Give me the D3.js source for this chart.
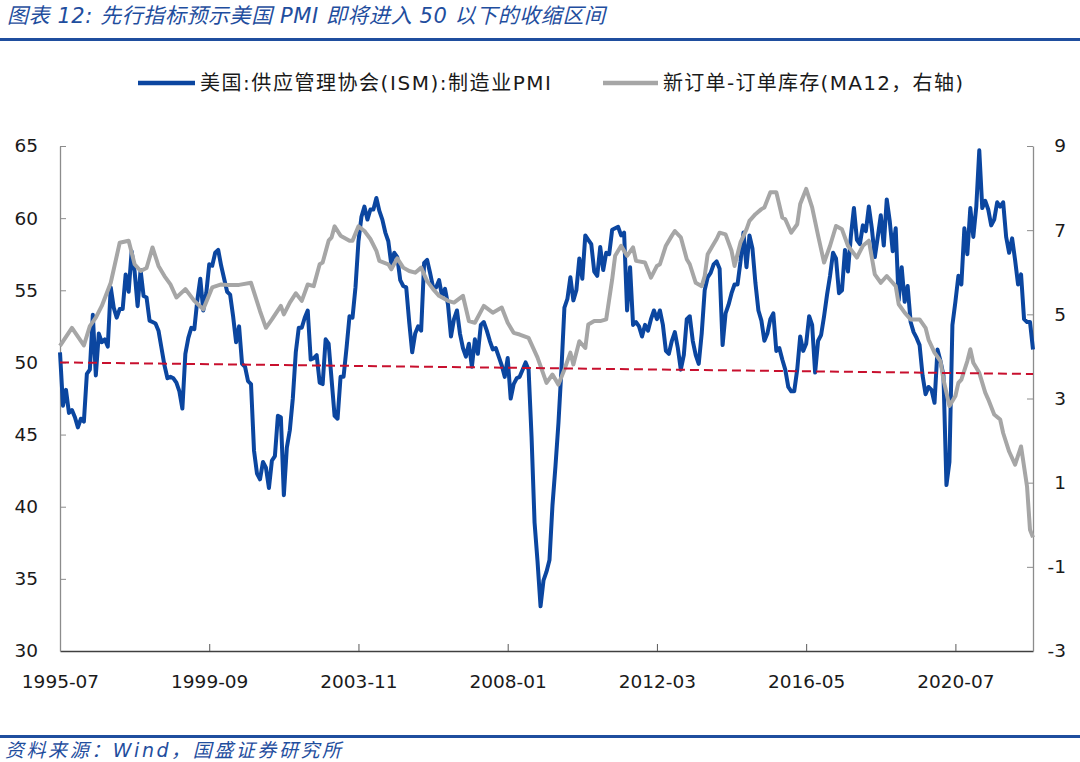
<!DOCTYPE html>
<html>
<script src="https://d3js.org/d3.v7.min.js"></script>

<head>
    <style>
        body {
            margin: 0;
            background-color: #ffffff;
            font-family: "DejaVu Sans", "Noto Sans CJK SC", sans-serif;
        }

        svg {
            display: block;
        }
    </style>
</head>

<body>
</body>
<script>
    const width = 1080,
        height = 762;

    // monthly ISM manufacturing PMI, first value is 1995-07
    const pmiStart = "1995-07";
    const pmiValues = [
        50.7, 47.0, 48.1, 46.5, 46.7, 46.2,
        45.5, 46.1, 45.9, 49.2, 49.5, 53.3, 49.1, 52.0, 51.4, 51.6, 51.1, 55.2,
        53.8, 53.1, 53.7, 53.7, 56.1, 54.9, 57.7, 56.3, 53.9, 56.4, 54.6, 54.5,
        52.9, 52.8, 52.7, 52.2, 51.0, 49.8, 48.9, 49.0, 48.9, 48.6, 48.0, 46.8,
        50.6, 51.7, 52.4, 52.3, 54.3, 55.8, 53.6, 54.8, 56.8, 56.7, 57.6, 57.8,
        56.7, 55.8, 54.9, 54.7, 53.2, 51.4, 52.5, 49.9, 49.7, 48.7, 48.5, 43.9,
        42.3, 41.9, 43.1, 42.7, 41.3, 43.2, 43.5, 46.3, 46.2, 40.8, 44.1, 45.3,
        47.5, 50.7, 52.4, 52.4, 53.1, 53.6, 50.2, 50.3, 50.5, 48.6, 48.5, 51.6,
        51.3, 48.8, 46.3, 46.1, 49.0, 49.0, 51.0, 53.2, 53.1, 55.2, 58.4, 60.1,
        60.8, 59.9, 60.6, 60.6, 61.4, 60.5, 59.9, 59.0, 58.4, 56.8, 57.6, 57.3,
        55.7, 55.3, 55.2, 52.8, 50.7, 52.0, 52.5, 52.2, 56.9, 57.1, 56.2, 55.2,
        55.2, 55.7, 54.6, 55.1, 54.0, 51.8, 53.0, 53.6, 52.0, 51.0, 50.4, 51.3,
        49.7, 51.6, 50.6, 52.6, 52.8, 52.2, 51.5, 50.9, 51.0, 50.4, 49.8, 49.0,
        50.3, 47.5, 48.5, 48.9, 49.0, 49.5, 50.0, 49.5, 44.8, 38.9, 36.2, 33.1,
        34.9, 35.5, 36.3, 40.1, 42.8, 45.8, 49.5, 53.8, 54.4, 55.9, 54.3, 55.0,
        57.2, 55.8, 58.8, 58.5, 58.2, 56.3, 56.0, 58.0, 56.4, 57.6, 57.5, 59.2,
        59.3, 59.4, 58.8, 59.0, 53.6, 56.6, 52.6, 52.8, 52.5, 51.8, 52.6, 52.2,
        53.0, 53.6, 53.0, 53.6, 52.6, 50.8, 50.6, 51.5, 52.1, 51.0, 49.5, 50.5,
        53.0, 53.2, 51.5, 50.5, 49.9, 52.0, 55.0, 55.9, 56.2, 56.8, 57.0, 56.5,
        51.2, 53.4, 54.0, 54.8, 55.4, 55.4, 57.0, 59.0, 56.6, 58.8, 57.9, 55.5,
        53.6, 52.9, 51.5, 52.0, 53.0, 53.4, 50.8, 51.0, 50.2, 49.5, 48.3, 48.0,
        48.0, 49.5, 51.8, 50.8, 51.3, 53.2, 52.6, 49.3, 51.5, 51.9, 53.2, 54.7,
        56.0, 57.6, 57.2, 54.8, 55.0, 57.8, 56.3, 58.8, 60.7, 58.5, 58.2, 59.5,
        59.1, 60.8, 59.3, 57.3, 58.7, 60.2, 58.1, 61.3, 59.8, 57.7, 59.3, 54.3,
        56.6, 54.2, 55.3, 52.8, 52.1, 51.7, 51.2, 49.1, 47.8, 48.3, 48.1, 47.2,
        50.9, 50.1, 49.1, 41.5, 43.1, 52.6, 54.2, 56.0, 55.4, 59.3, 57.5, 60.7,
        58.7, 60.8, 64.7, 60.7, 61.2, 60.6, 59.5, 59.9, 61.1, 60.8, 61.1, 58.7,
        57.6, 58.6, 57.1, 55.4, 56.1, 53.0, 52.8, 52.8, 50.9
    ];

    // new orders minus inventories, 12-month average (right axis)
    const grayDates = [
        "1995-07", "1995-11", "1996-03", "1996-05", "1996-07", "1996-09", "1996-12", "1997-03", "1997-06", "1997-08",
        "1997-10", "1997-12", "1998-02", "1998-04", "1998-06", "1998-08", "1998-10", "1999-01", "1999-04", "1999-07",
        "1999-10", "2000-01", "2000-03", "2000-07", "2000-11", "2001-02", "2001-04", "2001-06", "2001-09", "2001-10",
        "2001-12", "2002-02", "2002-04", "2002-06", "2002-08", "2002-10", "2002-11", "2003-01", "2003-02", "2003-03",
        "2003-05", "2003-08", "2003-09", "2003-11", "2004-01", "2004-03", "2004-05", "2004-06", "2004-09", "2004-10",
        "2004-12", "2005-02", "2005-04", "2005-06", "2005-08", "2005-10", "2005-12", "2006-02", "2006-05", "2006-07",
        "2006-10", "2006-12", "2007-02", "2007-05", "2007-08", "2007-11", "2008-01", "2008-03", "2008-05", "2008-08",
        "2008-11", "2009-02", "2009-04", "2009-06", "2009-08", "2009-10", "2009-11", "2010-01", "2010-03", "2010-04",
        "2010-06", "2010-08", "2010-10", "2010-12", "2011-01", "2011-03", "2011-05", "2011-07", "2011-08", "2011-11",
        "2012-01", "2012-03", "2012-04", "2012-06", "2012-08", "2012-09", "2012-11", "2013-01", "2013-02", "2013-04",
        "2013-06", "2013-07", "2013-08", "2013-10", "2013-11", "2013-12", "2014-02", "2014-04", "2014-05", "2014-07",
        "2014-09", "2014-10", "2014-12", "2015-02", "2015-03", "2015-05", "2015-07", "2015-09", "2015-10", "2015-12",
        "2016-02", "2016-03", "2016-05", "2016-07", "2016-09", "2016-11", "2017-01", "2017-03", "2017-05", "2017-07",
        "2017-10", "2017-12", "2018-02", "2018-04", "2018-06", "2018-08", "2018-11", "2018-12", "2019-02", "2019-04",
        "2019-07", "2019-09", "2019-10", "2019-12", "2020-02", "2020-03", "2020-05", "2020-07", "2020-08", "2020-09",
        "2020-11", "2020-12", "2021-01", "2021-03", "2021-05", "2021-06", "2021-08", "2021-10", "2021-11", "2022-01",
        "2022-03", "2022-05", "2022-07", "2022-08", "2022-09"
    ];
    const grayValues = [
        4.25, 4.68, 4.26, 4.72, 4.92, 5.2, 5.75, 6.7, 6.75, 6.19,
        6.03, 6.1, 6.59, 6.15, 5.91, 5.71, 5.4, 5.6, 5.32, 5.12,
        5.64, 5.71, 5.7, 5.7, 5.75, 5.08, 4.68, 4.88, 5.2, 5.0,
        5.28, 5.5, 5.32, 5.71, 5.67, 6.19, 6.23, 6.75, 6.83, 7.09,
        6.87, 6.75, 6.75, 7.09, 6.98, 6.79, 6.51, 6.27, 6.19, 6.07,
        6.33, 6.11, 6.03, 5.99, 6.11, 5.79, 5.6, 5.44, 5.32, 5.28,
        5.44, 4.84, 4.8, 5.2, 5.04, 5.16, 4.8, 4.56, 4.52, 4.44,
        3.97, 3.37, 3.57, 3.33, 3.69, 4.09, 3.81, 4.36, 4.2, 4.76,
        4.84, 4.84, 4.88, 5.83, 6.39, 6.63, 6.39, 6.59, 6.27, 6.23,
        5.87, 6.15, 6.19, 6.63, 6.87, 6.98, 6.83, 6.31, 6.19, 5.75,
        5.67, 5.91, 6.43, 6.67, 6.79, 6.94, 6.9, 6.51, 6.15, 6.71,
        7.02, 7.22, 7.38, 7.5, 7.54, 7.9, 7.9, 7.3, 7.26, 6.94,
        7.14, 7.62, 7.98, 7.54, 6.87, 6.23, 6.63, 7.1, 7.02, 6.63,
        6.35, 6.63, 6.75, 5.95, 5.75, 5.91, 5.67, 5.24, 5.04, 4.88,
        4.88, 4.68, 4.4, 4.09, 3.89, 3.45, 2.82, 3.06, 3.37, 3.45,
        3.89, 4.17, 3.85, 3.61, 3.14, 2.98, 2.62, 2.5, 2.18, 1.74,
        1.43, 1.86, 0.91, -0.12, -0.3
    ];

    // dashed trend line of the PMI
    const trendDates = ["1995-07", "2022-09"];
    const trendValues = [50.0, 49.2];

    const leftTicks = [30, 35, 40, 45, 50, 55, 60, 65];
    const rightTicks = [-3, -1, 1, 3, 5, 7, 9];
    const xTickLabels = ["1995-07", "1999-09", "2003-11", "2008-01", "2012-03", "2016-05", "2020-07"];

    const title = "图表 12:  先行指标预示美国 PMI 即将进入 50 以下的收缩区间";
    const source = "资料来源：Wind，国盛证券研究所";
    const legendNames = ["美国:供应管理协会(ISM):制造业PMI", "新订单-订单库存(MA12，右轴)"];

    const blue = "#0b46a0",
        gray = "#a6a6a6",
        red = "#c8102e",
        navy = "#1f4e9e";

    const monthIndex = s => {
        const [y, m] = s.split("-").map(Number);
        const [y0, m0] = pmiStart.split("-").map(Number);
        return (y - y0) * 12 + (m - m0);
    };
    const pmi = pmiValues.map((v, i) => ({ i: i, v: v }));
    const grayData = grayDates.map((d, k) => ({ i: monthIndex(d), v: grayValues[k] }));
    const trendData = trendDates.map((d, k) => ({ i: monthIndex(d), v: trendValues[k] }));

    const plotLeft = 60, plotRight = 1033, plotTop = 146, plotBottom = 651;

    const x = d3.scaleLinear().domain([0, pmiValues.length - 1]).range([plotLeft, plotRight]);
    const yL = d3.scaleLinear().domain([30, 65]).range([plotBottom, plotTop]);
    const yR = d3.scaleLinear().domain([-3, 9]).range([plotBottom, plotTop]);

    const svg = d3.select("body").append("svg").attr("width", width).attr("height", height);

    // header and footer
    svg.append("text")
        .attr("x", 7).attr("y", 23)
        .attr("font-size", 21).attr("font-style", "italic")
        .attr("fill", navy)
        .attr("textLength", 598).attr("lengthAdjust", "spacing")
        .text(title);
    svg.append("rect").attr("x", 0).attr("y", 38).attr("width", width).attr("height", 3).attr("fill", navy);
    svg.append("rect").attr("x", 0).attr("y", 735).attr("width", width).attr("height", 3).attr("fill", navy);
    svg.append("text")
        .attr("x", 5).attr("y", 757)
        .attr("font-size", 19).attr("font-style", "italic")
        .attr("fill", navy)
        .attr("textLength", 336).attr("lengthAdjust", "spacing")
        .text(source);

    // legend
    const legend = [
        { x1: 138, x2: 195, tx: 200, len: 351, color: blue, name: legendNames[0] },
        { x1: 603, x2: 658, tx: 663, len: 300, color: gray, name: legendNames[1] }
    ];
    const lg = svg.append("g").selectAll("g").data(legend).join("g");
    lg.append("line")
        .attr("x1", d => d.x1).attr("x2", d => d.x2)
        .attr("y1", 83).attr("y2", 83)
        .attr("stroke", d => d.color).attr("stroke-width", 4.5);
    lg.append("text")
        .attr("x", d => d.tx).attr("y", 90)
        .attr("font-size", 20).attr("fill", "#1a1a1a")
        .attr("textLength", d => d.len).attr("lengthAdjust", "spacing")
        .text(d => d.name);

    // axes
    const xTickIdx = xTickLabels.map(monthIndex);
    const xAxis = svg.append("g")
        .attr("transform", `translate(0,${plotBottom})`)
        .call(d3.axisBottom(x).tickValues(xTickIdx).tickSizeInner(-7).tickSizeOuter(0)
            .tickFormat((d, k) => xTickLabels[k]));
    xAxis.select(".domain").attr("stroke", "#404040").attr("stroke-width", 1.3);
    xAxis.selectAll(".tick line").attr("stroke", "#595959");
    xAxis.selectAll("text").attr("font-size", 18.5).attr("font-family", "DejaVu Sans")
        .attr("fill", "#1a1a1a").attr("dy", "1.85em");

    const yAxisL = svg.append("g")
        .attr("transform", `translate(${plotLeft},0)`)
        .call(d3.axisLeft(yL).tickValues(leftTicks).tickSizeInner(-6).tickSizeOuter(0).tickPadding(22));
    const yAxisR = svg.append("g")
        .attr("transform", `translate(${plotRight},0)`)
        .call(d3.axisRight(yR).tickValues(rightTicks).tickSizeInner(-6).tickSizeOuter(0)
            .tickFormat(d => String(d)));
    yAxisR.selectAll("text").attr("text-anchor", "end").attr("x", 33);
    [yAxisL, yAxisR].forEach(a => {
        a.select(".domain").attr("stroke", "#8c8c8c").attr("stroke-width", 1.3);
        a.selectAll(".tick line").attr("stroke", "#8c8c8c");
        a.selectAll("text").attr("font-size", 18.5).attr("font-family", "DejaVu Sans").attr("fill", "#1a1a1a");
    });
    // the bottom tick of each value axis sits on the x axis
    yAxisL.selectAll(".tick line").filter(d => d === 30).remove();
    yAxisR.selectAll(".tick line").filter(d => d === -3).remove();

    // series
    const lineL = d3.line().x(d => x(d.i)).y(d => yL(d.v));
    const lineR = d3.line().x(d => x(d.i)).y(d => yR(d.v));

    svg.append("path")
        .datum(pmi)
        .attr("fill", "none")
        .attr("stroke", blue)
        .attr("stroke-width", 4)
        .attr("stroke-linejoin", "round")
        .attr("d", lineL);

    svg.append("path")
        .datum(grayData)
        .attr("fill", "none")
        .attr("stroke", gray)
        .attr("stroke-width", 4)
        .attr("stroke-linejoin", "round")
        .attr("d", lineR);

    svg.append("path")
        .datum(trendData)
        .attr("fill", "none")
        .attr("stroke", red)
        .attr("stroke-width", 2)
        .attr("stroke-dasharray", "9,5")
        .attr("d", lineL);
</script>

</html>
